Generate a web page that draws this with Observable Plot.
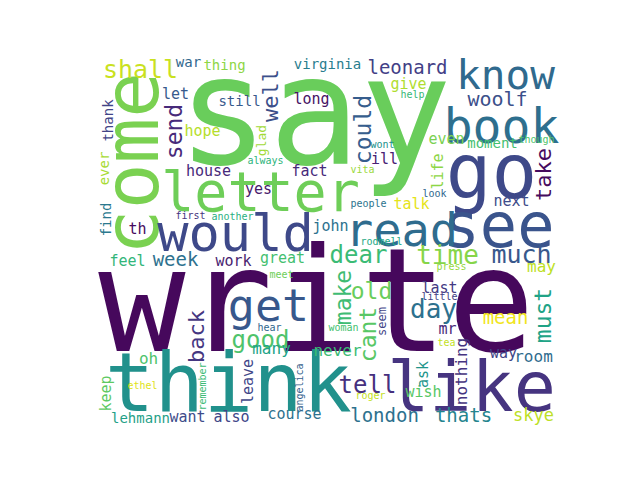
<!DOCTYPE html>
<html>
<head>
<meta charset="utf-8">
<script src="https://cdn.jsdelivr.net/npm/d3@7"></script>
<script src="https://cdn.jsdelivr.net/npm/@observablehq/plot@0.6"></script>
<style>
  html, body { margin: 0; padding: 0; background: #ffffff; }
</style>
</head>
<body>
<div id="chart"></div>
<script>
// Word cloud data: word, size (font px), colour value (0..1 on viridis),
// layout position (baseline centre) and rotation.
const words = [
  "write","say","think","go","come","like","see","letter","would","read","book","get","know",
  "time","much","dear","day","old","good","tell","shall","could","take","make","cant","must","back","send","well",
  "leonard","woolf","week","mean","london","thats",
  "war","thing","virginia","let","still","long","give","hope","house","fact","ill","yes","even","moment","talk","next",
  "john","feel","work","great","last","mr","many","never","way","room","oh","wish","lehmann","want","also","course","skye","may","th",
  "thank","ever","glad","find","life","keep","nothing","ask","leave","seem",
  "always","help","wont","vita","people","look","though","first","another","meet","rodmell","press","little","hear","woman","tea","ethel","roger","remember","angelica"
];
const sizes = [
  145,152,82,76,76,70,62,55,52,47,48,45,41,
  26,25,24,26,23,24,24,25,23,22,23,23,23,22,23,22,
  19,20,19,19,19,19,
  14,14,14,15,14,15,15,15,15,15,15,15,15,14,15,15,
  15,15,15,15,15,15,16,16,15,16,16,15,14,15,15,15,17,16,15,
  14,14,13,14,15,15,16,15,15,12,
  10,10,10,10,10,10,10,10,10,10,10,10,10,10,10,10,10,10,10,10
];
const tones = [
  0.02,0.77,0.50,0.22,0.80,0.15,0.26,0.78,0.22,0.35,0.36,0.27,0.34,
  0.82,0.27,0.68,0.37,0.77,0.72,0.14,0.92,0.29,0.03,0.69,0.74,0.58,0.16,0.12,0.24,
  0.19,0.24,0.37,0.98,0.37,0.45,
  0.33,0.83,0.42,0.28,0.28,0.05,0.88,0.89,0.12,0.12,0.09,0.07,0.80,0.70,0.96,0.23,
  0.37,0.66,0.08,0.70,0.17,0.11,0.58,0.68,0.20,0.35,0.72,0.74,0.57,0.23,0.21,0.37,0.90,0.90,0.03,
  0.20,0.87,0.86,0.40,0.83,0.75,0.15,0.52,0.21,0.20,
  0.65,0.67,0.50,0.85,0.38,0.33,0.72,0.15,0.63,0.78,0.60,0.84,0.18,0.33,0.70,0.91,0.95,0.91,0.68,0.30
];
const posX = [
  316,314,228,491,157,471,498,260,235,401,501,268,505,
  447,521,358,433,371,260,367,140,370,550,350,375,550,203,181,277,
  407,497,175,505,384,463,
  188,224,327,175,239,311,408,202,208,309,384,258,446,492,411,511,
  330,127,233,282,439,447,271,337,503,533,148,423,140,187,231,294,533,541,137,
  112,108,265,110,442,110,466,427,252,385,
  265,412,382,362,368,434,536,190,232,281,381,451,439,269,343,446,142,370,205,302
];
const posY = [
  350,163,410,197,163,410,246,210,250,245,142,320,88,
  263,262,262,317,298,347,392,77,129,174,297,334,315,336,131,95,
  73,105,265,323,421,421,
  66,69,68,98,105,103,88,135,175,175,163,193,143,147,208,205,
  230,265,265,262,292,333,353,355,357,361,363,396,422,421,421,418,420,271,233,
  120,168,140,219,171,393,371,374,381,321,
  163,97,147,172,206,196,142,218,219,277,244,269,299,330,330,345,388,398,386,387
];
const rotations = [
  0,0,0,0,-90,0,0,0,0,0,0,0,0,
  0,0,0,0,0,0,0,0,-90,-90,-90,-90,-90,-90,-90,-90,
  0,0,0,0,0,0,
  0,0,0,0,0,0,0,0,0,0,0,0,0,0,0,0,
  0,0,0,0,0,0,0,0,0,0,0,0,0,0,0,0,0,0,0,
  -90,-90,-90,-90,-90,-90,-90,-90,-90,-90,
  0,0,0,0,0,0,0,0,0,0,0,0,0,0,0,0,0,0,-90,-90
];

const table = words.map((w, i) => ({
  word: w, size: sizes[i], tone: tones[i], px: posX[i], py: posY[i], rot: rotations[i]
}));

const chart = Plot.plot({
  width: 640,
  height: 480,
  margin: 0,
  style: { background: "#ffffff" },
  x: { domain: [0, 640], range: [0, 640], axis: null },
  y: { domain: [0, 480], range: [0, 480], axis: null },
  color: { type: "linear", scheme: "viridis", domain: [0, 1] },
  marks: [
    Plot.text(table, {
      x: "px",
      y: "py",
      text: "word",
      fontSize: "size",
      rotate: "rot",
      fill: "tone",
      textAnchor: "middle",
      lineAnchor: "bottom",
      fontFamily: "DejaVu Sans Mono"
    })
  ]
});
document.getElementById("chart").appendChild(chart);
</script>
</body>
</html>
